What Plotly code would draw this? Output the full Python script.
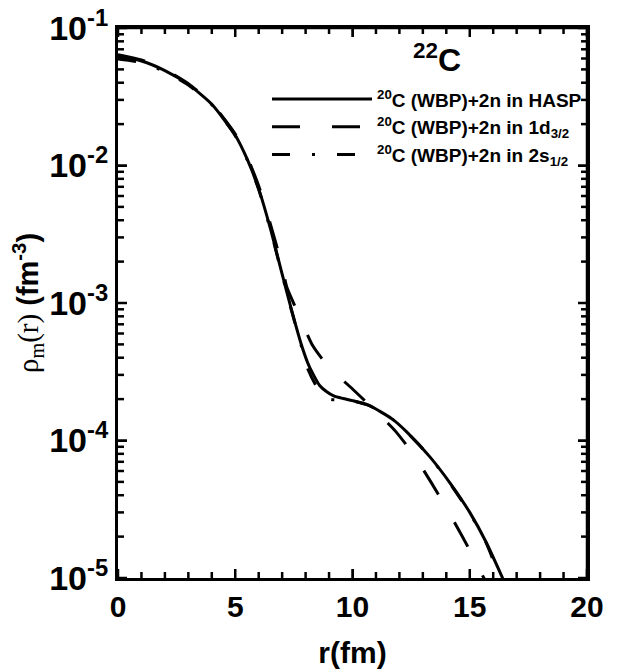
import plotly.graph_objects as go

# ---- data (r in fm, density in fm^-3) ----
r_hasp = [0.0, 1.0, 2.0, 3.0, 4.0, 5.0, 5.5, 6.0, 6.5, 7.0, 7.4, 7.8, 8.15, 8.6,
          8.9, 9.2, 9.6, 10.0, 10.7, 11.7, 12.3, 13.3, 14.2, 15.0, 15.7, 16.4, 16.6]
rho_hasp = [0.0622, 0.0575, 0.0490, 0.0389, 0.0279, 0.0166, 0.0112, 6.76e-3, 3.47e-3,
            1.62e-3, 8.9e-4, 5.1e-4, 3.47e-4, 2.51e-4, 2.26e-4, 2.11e-4, 2.02e-4,
            1.95e-4, 1.80e-4, 1.43e-4, 1.16e-4, 7.6e-5, 4.8e-5, 3.0e-5, 1.82e-5,
            1.0e-5, 8.4e-6]

r_d32 = [0.0, 1.0, 2.0, 3.0, 4.0, 5.0, 5.5, 6.0, 6.5, 7.0, 7.2, 7.7, 8.3, 9.0,
         10.0, 10.76, 11.83, 12.6, 13.34, 13.97, 14.66, 15.25, 15.6, 15.8]
rho_d32 = [0.0640, 0.0585, 0.0498, 0.0394, 0.0282, 0.0169, 0.0116, 7.1e-3, 3.75e-3,
           1.85e-3, 1.3e-3, 8.3e-4, 4.9e-4, 3.4e-4, 2.37e-4, 1.78e-4, 1.17e-4,
           7.9e-5, 5.0e-5, 3.3e-5, 2.04e-5, 1.32e-5, 1.0e-5, 8.5e-6]

r_s12 = [0.0, 1.0, 2.0, 3.0, 4.0, 5.0, 5.5, 6.0, 6.5, 7.0, 7.4, 7.8, 8.07, 8.41,
         8.7, 9.03, 9.5, 9.93, 10.7, 11.7, 12.3, 13.3, 14.2, 15.0, 15.7, 16.3, 16.5]
rho_s12 = [0.0595, 0.0560, 0.0482, 0.0385, 0.0277, 0.0165, 0.0111, 6.7e-3, 3.42e-3,
           1.60e-3, 8.8e-4, 5.0e-4, 3.39e-4, 2.57e-4, 2.20e-4, 2.0e-4, 1.97e-4,
           1.95e-4, 1.80e-4, 1.43e-4, 1.16e-4, 7.6e-5, 4.75e-5, 2.97e-5, 1.8e-5,
           1.0e-5, 8.5e-6]

names = ["<sup>20</sup>C (WBP)+2n in HASP",
         "<sup>20</sup>C (WBP)+2n in 1d<sub>3/2</sub>",
         "<sup>20</sup>C (WBP)+2n in 2s<sub>1/2</sub>"]

x_range = [0, 20]
y_range_log = [-5, -1]
x_ticks = [0, 5, 10, 15, 20]
x_minor = [1, 2, 3, 4, 6, 7, 8, 9, 11, 12, 13, 14, 16, 17, 18, 19]
y_tickvals = [1e-5, 1e-4, 1e-3, 1e-2, 1e-1]
y_ticktext = ["10<sup>-5</sup>", "10<sup>-4</sup>", "10<sup>-3</sup>",
              "10<sup>-2</sup>", "10<sup>-1</sup>"]
y_minor = [m * 10.0 ** e for e in range(-5, -1) for m in range(2, 10)]

FONT = "Liberation Sans, Arial, sans-serif"
W, H = 618, 669
M = dict(l=110, r=39, t=20, b=99)
MAJOR_LEN, MINOR_LEN = 9, 6

plot_w = W - M["l"] - M["r"]
plot_h = H - M["t"] - M["b"]
x_per_px = (x_range[1] - x_range[0]) / plot_w
dec_per_px = (y_range_log[1] - y_range_log[0]) / plot_h
y_lo, y_hi = 10.0 ** y_range_log[0], 10.0 ** y_range_log[1]

fig = go.Figure()
fig.add_trace(go.Scatter(x=r_hasp, y=rho_hasp, mode="lines", name=names[0],
                         line=dict(color="black", width=3, shape="spline", smoothing=0.6)))
fig.add_trace(go.Scatter(x=r_d32, y=rho_d32, mode="lines", name=names[1],
                         line=dict(color="black", width=3, dash="28px,32px",
                                   shape="spline", smoothing=0.6)))
fig.add_trace(go.Scatter(x=r_s12, y=rho_s12, mode="lines", name=names[2],
                         line=dict(color="black", width=3, dash="18px,22px,3px,22px",
                                   shape="spline", smoothing=0.6)))

# inside tick marks on all four sides (derived from the tick lists) plus the top/right frame
tx, ty = [], []
for v in x_ticks + x_minor:
    L = MAJOR_LEN if v in x_ticks else MINOR_LEN
    f = 10.0 ** (L * dec_per_px)
    tx += [v, v, None, v, v, None]
    ty += [y_lo, y_lo * f, None, y_hi, y_hi / f, None]
for v in y_tickvals + y_minor:
    L = MAJOR_LEN if v in y_tickvals else MINOR_LEN
    dx = L * x_per_px
    tx += [x_range[0], x_range[0] + dx, None, x_range[1], x_range[1] - dx, None]
    ty += [v, v, None, v, v, None]
tx += [x_range[0], x_range[1], x_range[1]]
ty += [y_hi, y_hi, y_lo]
fig.add_trace(go.Scatter(x=tx, y=ty, mode="lines", showlegend=False, hoverinfo="skip",
                         connectgaps=False, cliponaxis=False,
                         line=dict(color="black", width=2.5)))

fig.update_xaxes(range=x_range, tickmode="array", tickvals=x_ticks, ticks="inside",
                 ticklen=MAJOR_LEN, tickwidth=2, tickcolor="black",
                 showline=True, linecolor="black", linewidth=3, mirror="ticks",
                 showgrid=False, zeroline=False, automargin=False,
                 tickfont=dict(family=FONT, size=30, color="black", weight="bold"),
                 title=dict(text="<b>r(fm)</b>", font=dict(family=FONT, size=30, color="black"),
                            standoff=20))
fig.update_yaxes(type="log", range=y_range_log, tickmode="array", tickvals=y_tickvals,
                 ticktext=y_ticktext, ticks="inside",
                 ticklen=MAJOR_LEN, tickwidth=2, tickcolor="black",
                 showline=True, linecolor="black", linewidth=3, mirror="ticks",
                 showgrid=False, zeroline=False, automargin=False,
                 ticklabeloverflow="allow",
                 tickfont=dict(family=FONT, size=34, color="black", weight="bold"),
                 title=dict(text="<span style='font-family:Liberation Serif'>ρ<sub>m</sub>(r)</span> <b>(fm<sup>-3</sup>)</b>",
                            font=dict(family=FONT, size=29, color="black"), standoff=8))

fig.add_annotation(text="<b><sup>22</sup>C</b>", xref="paper", yref="paper",
                   x=0.735, y=0.985, showarrow=False,
                   font=dict(family=FONT, size=32, color="black"))

fig.update_layout(
    width=W, height=H,
    margin=M,
    plot_bgcolor="white", paper_bgcolor="white",
    showlegend=True,
    legend=dict(x=1.0, xanchor="right", y=0.905, yanchor="top",
                bgcolor="rgba(0,0,0,0)", itemwidth=100,
                font=dict(family=FONT, size=19, color="black", weight="bold")),
)

fig.write_html("out.html")
